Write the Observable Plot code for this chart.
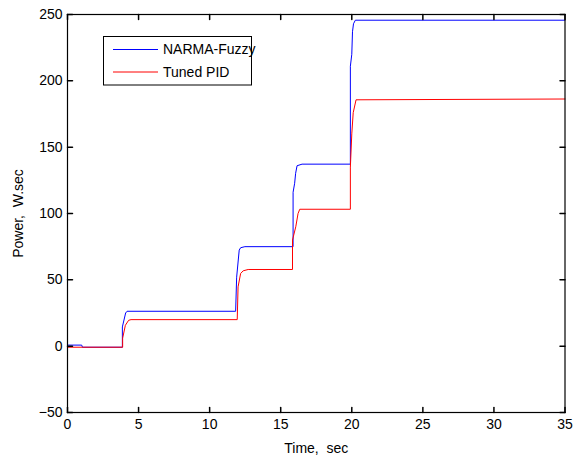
<!DOCTYPE html>
<html><head><meta charset="utf-8">
<script src="https://cdn.jsdelivr.net/npm/d3@7"></script>
<script src="https://cdn.jsdelivr.net/npm/@observablehq/plot@0.6"></script>
<style>body{margin:0;background:#fff} #chart{width:580px;height:457px}</style>
</head><body><div id="chart"></div>
<script>
const narmaTime  = [0, 1.0, 1.05, 3.86, 3.86, 4.09, 4.19, 11.83, 11.9, 12.08, 12.18, 12.48, 15.87, 15.87, 15.98, 16.05, 16.15, 16.5, 19.9, 19.9, 20.0, 20.05, 20.12, 20.25, 35];
const narmaPower = [0.8, 0.8, -0.8, -0.8, 14.5, 25, 26.3, 26.3, 52, 72.4, 74.2, 75, 75, 116, 122.8, 130.3, 136, 137.2, 137.2, 211, 220, 237, 243, 245.7, 245.7];
const pidTime    = [0, 3.88, 3.88, 4.07, 4.3, 4.47, 11.94, 12.0, 12.18, 12.36, 12.71, 15.83, 15.83, 16.06, 16.22, 16.34, 19.9, 19.9, 20.0, 20.1, 20.3, 35];
const pidPower   = [-0.8, -0.8, 6, 15.7, 19.5, 20, 20, 44.7, 54.8, 56.8, 57.8, 57.8, 80, 90, 100, 103.2, 103.2, 135, 160, 176, 185.7, 186.3];
const seriesNames = ["NARMA-Fuzzy", "Tuned PID"];
const seriesColors = ["#0000ff", "#ff0000"];
const xTicks = [0, 5, 10, 15, 20, 25, 30, 35];
const yTicks = [-50, 0, 50, 100, 150, 200, 250];
const xLabel = "Time,  sec";
const yLabel = "Power,  W.sec";

const narma = narmaTime.map((t, i) => ({t, p: narmaPower[i]}));
const pid = pidTime.map((t, i) => ({t, p: pidPower[i]}));
const tickShape = {draw(c, l) { c.moveTo(0, 0); c.lineTo(0, -l); }};

const plot = Plot.plot({
  width: 580, height: 457,
  marginLeft: 67, marginRight: 15.5, marginTop: 14, marginBottom: 45,
  style: {fontFamily: "'Liberation Sans', Arial, sans-serif", fontSize: "14px", background: "white", color: "black"},
  x: {domain: [0, 35]},
  y: {domain: [-50, 250]},
  marks: [
    Plot.line(narma, {x: "t", y: "p", stroke: seriesColors[0], strokeWidth: 1}),
    Plot.line(pid, {x: "t", y: "p", stroke: seriesColors[1], strokeWidth: 1}),
    Plot.frame({stroke: "black", strokeWidth: 1.2}),
    Plot.axisX({ticks: xTicks, tickSize: 0, tickPadding: 7, label: xLabel, labelAnchor: "center", labelOffset: 40, labelArrow: "none"}),
    Plot.axisY({ticks: yTicks, tickSize: 0, tickPadding: 5, label: yLabel, labelAnchor: "center", labelOffset: 54, labelArrow: "none"}),
    Plot.vector(xTicks, {x: d => d, y: -50, length: 5, rotate: 0, anchor: "start", shape: tickShape, stroke: "black"}),
    Plot.vector(xTicks, {x: d => d, y: 250, length: 5, rotate: 180, anchor: "start", shape: tickShape, stroke: "black"}),
    Plot.vector(yTicks, {x: 0, y: d => d, length: 5, rotate: 90, anchor: "start", shape: tickShape, stroke: "black"}),
    Plot.vector(yTicks, {x: 35, y: d => d, length: 5, rotate: -90, anchor: "start", shape: tickShape, stroke: "black"})
  ]
});

const svg = d3.select(plot);
const lg = svg.append("g").attr("class", "legend").attr("text-anchor", "start");
lg.append("rect").attr("x", 103.5).attr("y", 36.5).attr("width", 148).attr("height", 48.5)
  .attr("fill", "white").attr("stroke", "black").attr("stroke-width", 1);
seriesNames.forEach((name, i) => {
  const y = 49.5 + i * 22.5;
  lg.append("line").attr("x1", 113).attr("x2", 158).attr("y1", y).attr("y2", y)
    .attr("stroke", seriesColors[i]).attr("stroke-width", 1);
  lg.append("text").attr("x", 163).attr("y", y).attr("dy", "0.35em")
    .attr("text-anchor", "start").attr("font-size", 14).attr("fill", "black").text(name);
});
document.getElementById("chart").appendChild(plot);
</script>
</body></html>
